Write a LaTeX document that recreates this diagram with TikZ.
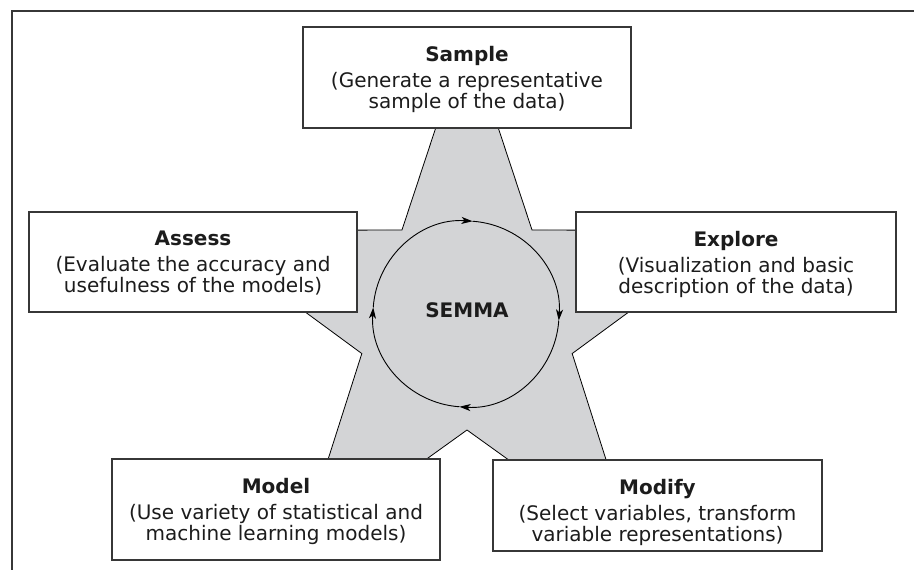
\documentclass[tikz,border=0pt]{standalone}
\usepackage{fontspec}
\setmainfont{DejaVu Sans}
\usetikzlibrary{calc, arrows.meta}
\definecolor{starfill}{RGB}{211,212,214}
\definecolor{boxline}{RGB}{55,55,55}
\definecolor{ink}{RGB}{28,28,28}
\newcommand{\boxfont}{\fontsize{20}{21}\selectfont}

\begin{document}
\begin{tikzpicture}[x=1pt, y=1pt,
  box/.style={draw=boxline, line width=1.3pt, fill=white, align=center,
    inner sep=0pt, text=ink, text depth=0pt, font=\boxfont},
  flowarc/.style={line width=0.9pt, -{Stealth[length=11pt, width=7pt, inset=3pt]}}]
  \useasboundingbox (0,0) rectangle (914,570);
  \coordinate (F0) at (12,0);
  \coordinate (F1) at (12,559);
  \coordinate (F2) at (914,559);
  \draw[boxline, line width=1.6pt] (F0) -- (F1) -- (F2);

  \coordinate (S) at (467,250.6);
  \coordinate (C) at (466,256);
  \foreach \i in {0,...,4} {
    \coordinate (o\i) at ($(S)+(90+72*\i:286)$);
    \coordinate (n\i) at ($(S)+(126+72*\i:110.6)$);
  }
  \draw[fill=starfill, line width=0.8pt] (o0) -- (n0) -- (o1) -- (n1) -- (o2)
    -- (n2) -- (o3) -- (n3) -- (o4) -- (n4) -- cycle;

  \foreach \a in {176,86,-4,-94}
    \draw[flowarc] ($(C)+(\a:93)$) arc[start angle=\a, end angle=\a-90, radius=93];
  \node[font=\boxfont\bfseries, text=ink] (semma) at (467,259.5) {SEMMA};

  \node[box, minimum width=328pt, minimum height=101pt] (sample) at (467,492.5)
    {\textbf{Sample}\\[5pt](Generate a representative\\sample of the data)};
  \node[box, minimum width=328pt, minimum height=100pt] (assess) at (193,308)
    {\textbf{Assess}\\[5pt](Evaluate the accuracy and\\usefulness of the models)};
  \node[box, minimum width=320pt, minimum height=100pt] (explore) at (736,308)
    {\textbf{Explore}\\[5pt](Visualization and basic\\description of the data)};
  \node[box, minimum width=328pt, minimum height=101pt] (model) at (276,60.5)
    {\textbf{Model}\\[5pt](Use variety of statistical and\\machine learning models)};
  \node[box, minimum width=329pt, minimum height=91pt] (modify) at (657.5,64.5) {};
  \node[box, draw=none, fill=none] (modifytext) at (657.5,59.1)
    {\textbf{Modify}\\[5pt](Select variables, transform\\variable representations)};
\end{tikzpicture}
\end{document}
